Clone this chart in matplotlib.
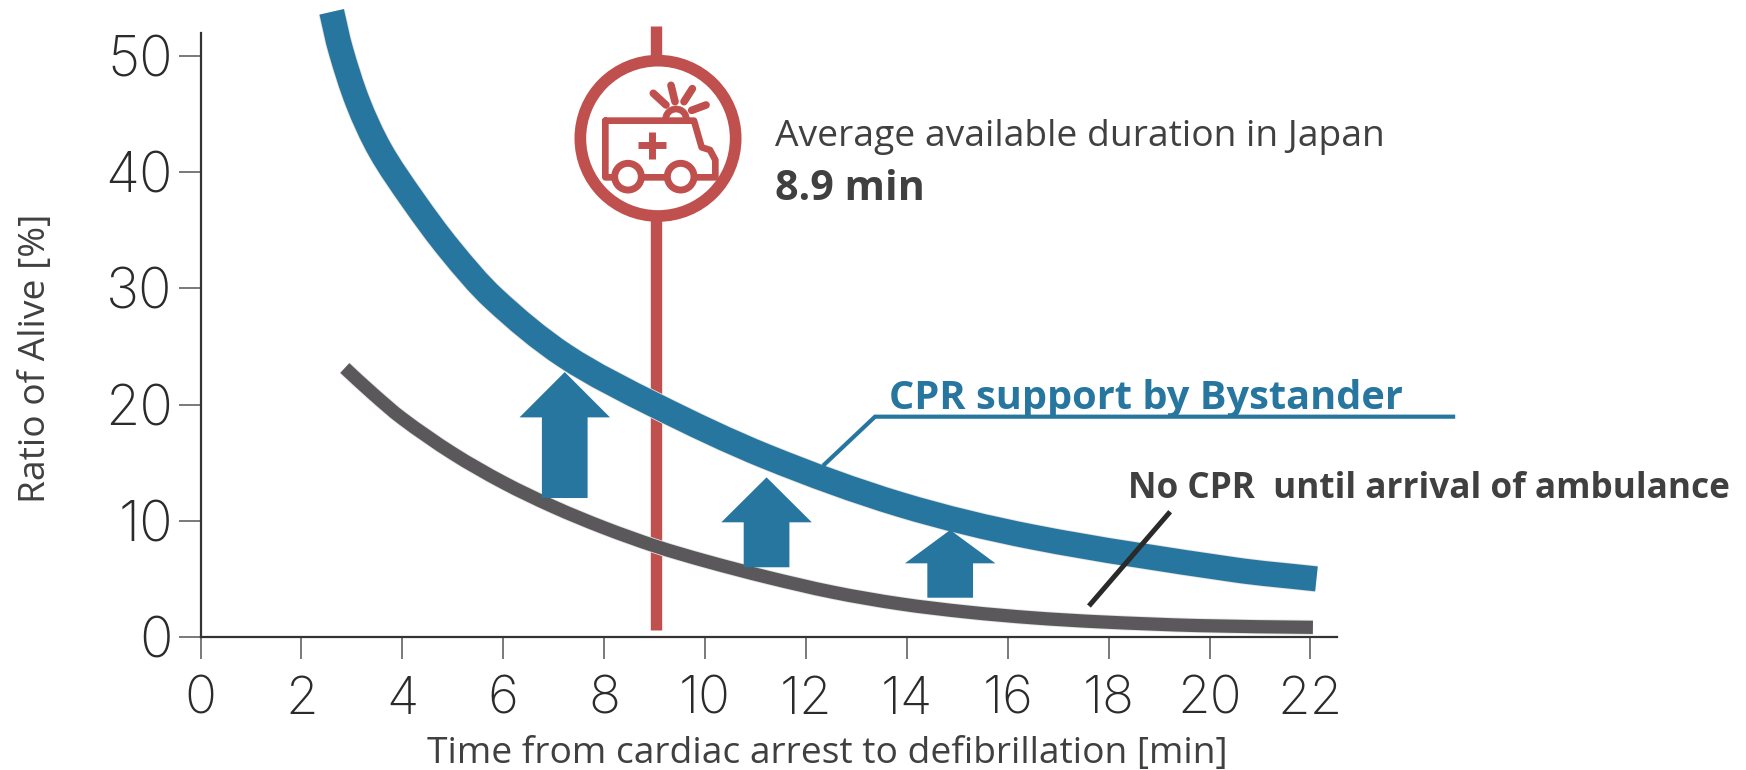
import math
import matplotlib
matplotlib.use("Agg")
import matplotlib.pyplot as plt
import matplotlib.patheffects as pe
from matplotlib.path import Path
from matplotlib.patches import Circle, Polygon, PathPatch, Wedge

W, H = 1746, 770
BLUE, DARK, RED, TXT = "#26769f", "#5a585a", "#c0504d", "#404040"
SX, SY = 50.45, 11.62

# data
x_ticks = list(range(0, 24, 2))
y_ticks = [0, 10, 20, 30, 40, 50]
cpr_x = [2.60, 2.78, 3.12, 3.56, 4.21, 4.95, 5.82, 7.22, 9.03, 11.23, 13.87, 16.5, 20.47, 22.12]
cpr_y = [53.8, 50.5, 46.0, 41.9, 37.6, 33.3, 29.1, 24.2, 19.9, 15.5, 11.4, 8.6, 5.8, 5.0]
nocpr_x = [2.86, 3.4, 4, 5, 6, 7, 8, 9.03, 10, 11.23, 12.54, 13.87, 15.19, 16.5, 17.85, 19.8, 22.05]
nocpr_y = [23.15, 21.0, 18.8, 15.8, 13.3, 11.2, 9.4, 7.8, 6.55, 5.15, 3.85, 2.85, 2.15, 1.65, 1.3, 0.98, 0.83]
arrest_min = 9.03
arrow_x = [7.22, 11.22, 14.86]
arrow_base = [11.96, 6.0, 3.38]
arrow_neck = [18.9, 9.87, 6.34]
arrow_tip = [22.8, 13.74, 9.21]
cpr_lead_x = [12.34, 13.37, 24.87]
cpr_lead_y = [14.74, 18.96, 18.96]
no_lead_x = [17.61, 19.22]
no_lead_y = [2.67, 10.78]

tick_font = ["Inter", "Liberation Sans"]
label_font = "Open Sans"


def smooth_path(xs, ys):
    """Cubic path through the read values, handles scaled to each segment's screen length."""
    n = len(xs)
    seg = [math.hypot((xs[i + 1] - xs[i]) * SX, (ys[i + 1] - ys[i]) * SY) for i in range(n - 1)]
    tang = []
    for i in range(n):
        a, b = max(i - 1, 0), min(i + 1, n - 1)
        dx, dy = (xs[b] - xs[a]) * SX, (ys[b] - ys[a]) * SY
        d = math.hypot(dx, dy)
        tang.append((dx / d, dy / d))
    verts, codes = [(xs[0], ys[0])], [Path.MOVETO]
    for i in range(n - 1):
        h = seg[i] / 3
        verts += [(xs[i] + tang[i][0] * h / SX, ys[i] + tang[i][1] * h / SY),
                  (xs[i + 1] - tang[i + 1][0] * h / SX, ys[i + 1] - tang[i + 1][1] * h / SY),
                  (xs[i + 1], ys[i + 1])]
        codes += [Path.CURVE4] * 3
    return Path(verts, codes)


fig = plt.figure(figsize=(W / 100, H / 100), dpi=100)
L, B = 200.5, H - 637
ax = fig.add_axes([L / W, B / H, (1337 - L) / W, (637 - 33) / H])
ax.set_xlim(0, (1337 - L) / SX)
ax.set_ylim(0, (637 - 33) / SY)
for s in ("top", "right"):
    ax.spines[s].set_visible(False)
for s in ("left", "bottom"):
    ax.spines[s].set_linewidth(1.6)
    ax.spines[s].set_color("#333333")
ax.set_xticks(x_ticks)
ax.set_yticks(y_ticks)
ax.tick_params(axis="x", length=16, width=1.1, color="#555555", pad=12)
ax.tick_params(axis="y", length=16, width=1.1, color="#555555", pad=4)
for t in ax.get_xticklabels() + ax.get_yticklabels():
    t.set_fontfamily(tick_font)
    t.set_fontweight("light")
    t.set_fontsize(38)
    t.set_color("#2b2b2b")
for t in ax.get_yticklabels():
    t.set_fontsize(40)

ax.plot([arrest_min, arrest_min], [0.6, 52.6], color=RED, lw=8.2, solid_capstyle="butt", clip_on=False, zorder=2)
ax.add_patch(PathPatch(smooth_path(cpr_x, cpr_y), fc="none", ec=BLUE, lw=18, capstyle="butt", clip_on=False, zorder=3,
                       path_effects=[pe.Stroke(linewidth=19.2, foreground="#e2e2e2"), pe.Normal()]))
ax.add_patch(PathPatch(smooth_path(nocpr_x, nocpr_y), fc="none", ec=DARK, lw=9.5, capstyle="butt", clip_on=False, zorder=3,
                       path_effects=[pe.Stroke(linewidth=10.7, foreground="#e2e2e2"), pe.Normal()]))

for cx, b, n, t in zip(arrow_x, arrow_base, arrow_neck, arrow_tip):
    ax.add_patch(Polygon([(cx - .453, b), (cx + .453, b), (cx + .453, n), (cx + .897, n), (cx, t),
                          (cx - .897, n), (cx - .453, n)], closed=True, fc=BLUE, ec="none", zorder=4))
ax.plot(cpr_lead_x, cpr_lead_y, color=BLUE, lw=3, clip_on=False, zorder=5, solid_joinstyle="miter", solid_capstyle="butt")
ax.plot(no_lead_x, no_lead_y, color="#2a2a2a", lw=3.6, clip_on=False, zorder=5, solid_capstyle="butt")


def px(x, y):
    return x / W, 1 - y / H


fig.text(*px(775, 137), "Average available duration in Japan", family=label_font, fontsize=26.8, color=TXT, va="center")
fig.text(*px(775, 190), "8.9 min", family=label_font, fontweight="bold", fontsize=29.7, color=TXT, va="center")
fig.text(*px(889, 399), "CPR support by Bystander", family=label_font, fontweight="bold", fontsize=28.6, color=BLUE, va="center")
fig.text(*px(1128, 489), "No CPR  until arrival of ambulance", family=label_font, fontweight="bold", fontsize=25.3, color=TXT, va="center")
fig.text(*px(827, 754), "Time from cardiac arrest to defibrillation [min]", family=label_font, fontsize=26.7, color=TXT, ha="center", va="center")
fig.text(*px(36, 358), "Ratio of Alive [%]", family=label_font, fontsize=26.8, color=TXT, rotation=90, ha="center", va="center")

# ambulance icon, drawn in the 3x zoom coordinates of its own overlay
ic = fig.add_axes([540 / W, 1 - 250 / H, 400 / W, 250 / H], zorder=6)
ic.set_xlim(0, 1200)
ic.set_ylim(750, 0)
ic.axis("off")
ic.patch.set_alpha(0)
ic.add_patch(Circle((354, 415), 233, fc="white", ec=RED, lw=8.4))
body = [(196, 362), (462, 362), (485, 442), (510, 450), (526, 480), (526, 532), (196, 532), (196, 362)]
ic.plot(*zip(*body), color=RED, lw=4.8, solid_joinstyle="round", solid_capstyle="round")
ic.plot([295, 377], [435, 435], color=RED, lw=5, solid_capstyle="butt")
ic.plot([336, 336], [395, 477], color=RED, lw=5, solid_capstyle="butt")
for cx, cy in [(264, 530), (422, 530)]:
    ic.add_patch(Circle((cx, cy), 40, fc="white", ec=RED, lw=5, zorder=3))
ic.add_patch(Wedge((408, 358), 40, 180, 360, width=18, fc=RED, ec=RED, lw=0.5, zorder=3))
for (a, b), (c, d) in [((340, 280), (378, 315)), ((393, 256), (405, 305)), ((457, 266), (432, 305)), ((498, 315), (455, 331))]:
    ic.plot([a, c], [b, d], color=RED, lw=5.5, solid_capstyle="round")

fig.savefig("out.png", dpi=100)
